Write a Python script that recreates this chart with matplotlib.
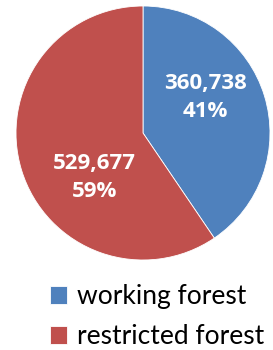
import matplotlib
matplotlib.use("Agg")
import matplotlib.pyplot as plt

categories = ["working forest", "restricted forest"]
values = [360738, 529677]
colors = ["#4F81BD", "#C0504D"]

plt.rcParams['font.family'] = ['Lato', 'DejaVu Sans']

fig = plt.figure(figsize=(2.73, 3.5), dpi=100)
ax = fig.add_axes([16/273, 90/350, 254/273, 254/350])
wedges, _ = ax.pie(values, colors=colors, startangle=90, counterclock=False,
                   radius=1.0, wedgeprops=dict(linewidth=0.6, edgecolor="white"))
ax.set_xlim(-1, 1)
ax.set_ylim(-1, 1)
ax.set_aspect('equal')
ax.axis('off')

total = sum(values)
label_pos = [(0.49, 0.28), (-0.38, -0.35)]
for v, (x, y) in zip(values, label_pos):
    ax.text(x, y, f"{v:,}\n{v/total:.0%}", ha='center', va='center',
            color='white', fontsize=16, fontweight='bold', linespacing=1.45,
            family=['Open Sans', 'DejaVu Sans'])

fig.legend(wedges, categories, loc='upper left', bbox_to_anchor=(50/273, 1 - 284/350),
           frameon=False, fontsize=19, handlelength=0.65, handleheight=0.65,
           handletextpad=0.38, labelspacing=0.58, borderpad=0, borderaxespad=0)

fig.savefig("out.png", dpi=100)
